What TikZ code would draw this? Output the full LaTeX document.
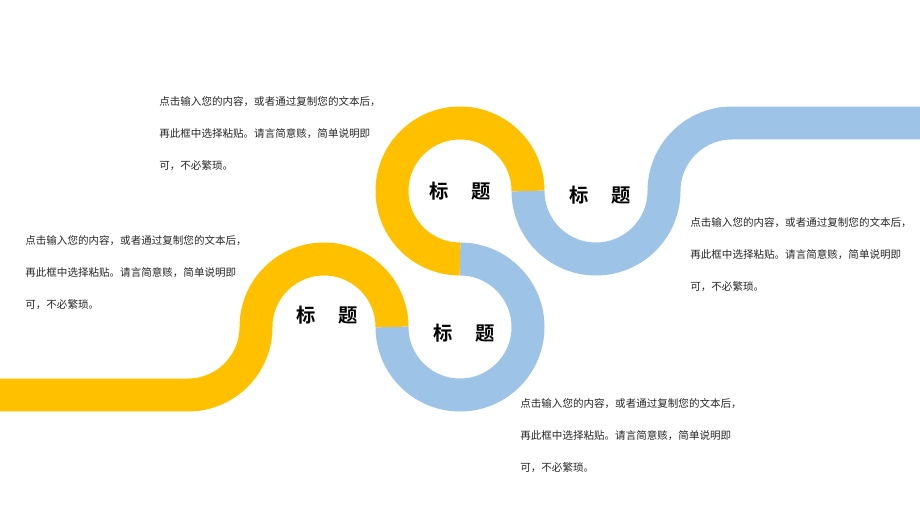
\documentclass[tikz,border=0pt]{standalone}
\usepackage{fontspec}
\usetikzlibrary{positioning}
\newfontfamily\cjk{Noto Sans CJK SC}[BoldFont={Noto Sans CJK SC Bold}]
\definecolor{roadyellow}{HTML}{FFC000}
\definecolor{roadblue}{HTML}{9DC3E6}
\tikzset{
    every node/.style={font=\cjk},
    band/.style={line width=0.66cm},
    yellow band/.style={band,draw=roadyellow},
    blue band/.style={band,draw=roadblue},
    title node/.style={font=\cjk\bfseries\fontsize{11pt}{12pt}\selectfont},
    text node/.style={anchor=north west,inner sep=0pt,align=left,text=black!85,font=\cjk\fontsize{6pt}{18.2pt}\selectfont}
}
\newcommand{\bodytext}{点击输入您的内容，或者通过复制您的文本后，\\再此框中选择粘贴。请言简意赅，简单说明即\\可，不必繁琐。}

\begin{document}
\begin{tikzpicture}[x=0.02cm,y=0.02cm]
    \useasboundingbox (0,0) rectangle (920,518);

    % junctions of the road
    \coordinate (start) at (0,123);
    \coordinate (j1) at (392,191);
    \coordinate (j2) at (460,259);
    \coordinate (j3) at (528,327);

    \draw[yellow band] (start) -- (188,123) arc[start angle=-90,end angle=0,radius=68]
        arc[start angle=180,end angle=0,radius=68];
    \draw[blue band] (j1) arc[start angle=180,end angle=450,radius=68];
    \draw[yellow band] (j2) arc[start angle=270,end angle=0,radius=68];
    \draw[blue band] (j3) arc[start angle=180,end angle=360,radius=68]
        arc[start angle=180,end angle=90,radius=68] -- (920,395);

    \node[title node] (t1) at (460,327) {标\hspace{1.15em}题};
    \node[title node] (t2) at (600,323) {标\hspace{1.15em}题};
    \node[title node] (t3) at (327,203) {标\hspace{1.15em}题};
    \node[title node] (t4) at (464,185) {标\hspace{1.15em}题};

    \node[text node] (p1) at (159,422) {\bodytext};
    \node[text node] (p2) at (25,283) {\bodytext};
    \node[text node] (p3) at (690,301) {\bodytext};
    \node[text node] (p4) at (520,120) {\bodytext};
\end{tikzpicture}
\end{document}
